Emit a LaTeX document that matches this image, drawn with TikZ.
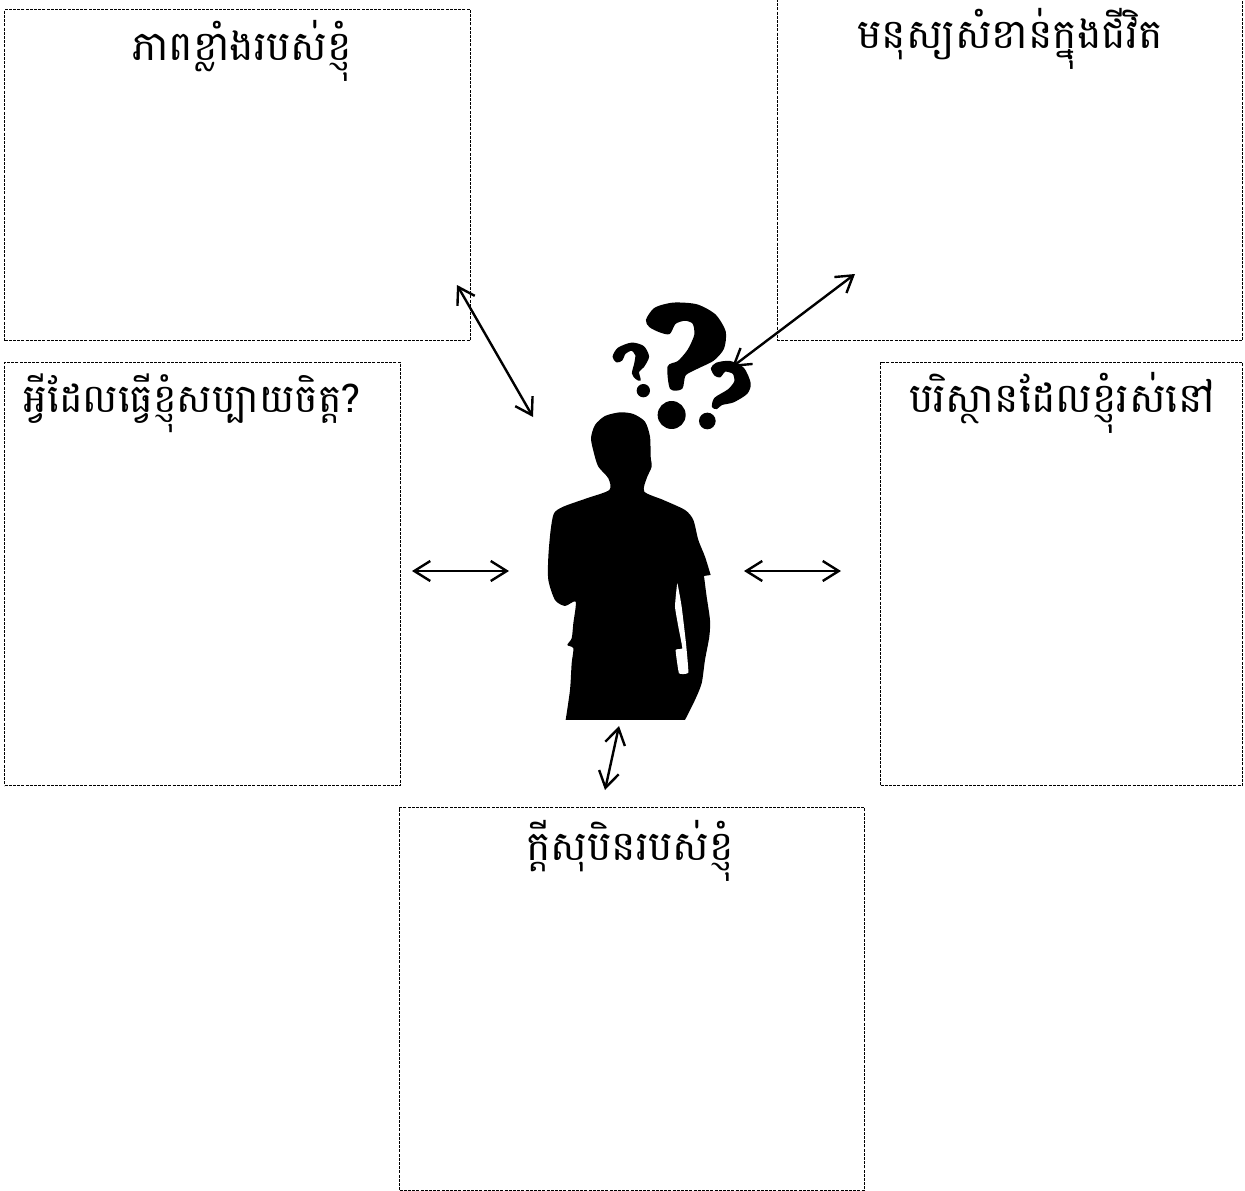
\documentclass[tikz,border=0pt]{standalone}
\usepackage{fontspec}
\usetikzlibrary{arrows.meta}
\newfontfamily\khmerfont[Script=Khmer]{Battambang}
\tikzset{
  panel/.style={draw=black,line width=1.1pt,dash pattern=on 3pt off 1.2pt,fill=none,inner sep=0pt,anchor=north west},
  paneltitle/.style={font=\khmerfont\fontsize{41}{48}\selectfont,anchor=base,inner sep=0pt,text=black},
  link/.style={line width=2.4pt,{Straight Barb[length=16pt,width=20pt,line width=2.4pt]}-{Straight Barb[length=16pt,width=20pt,line width=2.4pt]}},
  ink/.style={fill=black,draw=none},
  qmark/.style={fill=black,draw=black,line width=1.5pt,line join=round}
}
\begin{document}
\begin{tikzpicture}[x=1pt,y=-1pt]
\useasboundingbox (0,0) rectangle (1245,1191);
\begin{scope}
\clip (0,0) rectangle (1245,1191);
\node[panel,minimum width=466pt,minimum height=331pt] (strength) at (4,9) {};
\node[panel,minimum width=465.5pt,minimum height=350pt] (people) at (776.5,-10) {};
\node[panel,minimum width=396pt,minimum height=423pt] (joy) at (4,362) {};
\node[panel,minimum width=362pt,minimum height=423pt] (env) at (880,362) {};
\node[panel,minimum width=465pt,minimum height=383pt] (dream) at (399,807) {};
\end{scope}
\node[paneltitle] (t1) at (242,60) {ភាពខ្លាំងរបស់ខ្ញុំ};
\node[paneltitle] (t2) at (1010,48) {មនុស្យសំខាន់ក្នុងជីវិត};
\node[paneltitle,font=\khmerfont\fontsize{39.5}{48}\selectfont] (t3) at (192,412) {អ្វីដែលធ្វើខ្ញុំសប្បាយចិត្ត?};
\node[paneltitle] (t4) at (1062,412) {បរិស្ថានដែលខ្ញុំរស់នៅ};
\node[paneltitle] (t5) at (630,860) {ក្តីសុបិនរបស់ខ្ញុំ};
% silhouette
\begin{scope}[shift={(530,290)},x=0.3333pt,y=-0.3333pt]
\fill[ink] plot[smooth,tension=0.45] coordinates {(465,1290)(495,1230)(515,1180)(525,1110)(538,1040)(540,990)(530,920)(522,858)}
 -- (542,855)
 -- plot[smooth,tension=0.45] coordinates {(542,855)(525,800)(505,750)(490,690)(465,660)(400,630)(343,605)(350,565)(365,530)(362,500)(360,440)(345,395)(310,372)(270,367)(225,378)(195,405)(183,445)(192,490)(205,530)(235,565)(238,600)(170,625)(100,650)(72,670)(62,720)(55,800)(55,870)(75,930)(105,948)(137,935)(130,1000)(125,1045)(112,1065)(130,1075)(125,1120)(120,1200)(107,1290)} -- cycle;
\fill[white] plot[smooth cycle,tension=0.2] coordinates {(442,880)(435,950)(445,1010)(457,1075)(437,1080)(447,1150)(475,1148)(468,1060)(455,950)};
\end{scope}
\begin{scope}[shift={(600,295)},x=0.3333pt,y=-0.3333pt]
\path[qmark] plot[smooth cycle,tension=0.45] coordinates {(140,75)(165,40)(220,25)(290,30)(345,60)(375,110)(370,160)(340,195)(290,220)(255,240)(245,280)(212,280)(205,215)(235,200)(265,165)(285,120)(280,85)(255,75)(225,85)(208,115)(180,110)(150,95)};
\fill[ink] (215,360) circle (42);
\path[qmark] plot[smooth cycle,tension=0.45] coordinates {(40,185)(55,160)(95,145)(130,155)(145,185)(130,215)(115,230)(120,255)(108,250)(98,235)(105,205)(108,180)(95,165)(75,175)(65,195)(50,200)};
\fill[ink] (130,287) circle (20);
\path[qmark] plot[smooth cycle,tension=0.45] coordinates {(335,220)(350,205)(390,200)(430,220)(450,265)(440,295)(400,320)(365,328)(350,340)(338,335)(345,310)(385,285)(405,260)(400,235)(375,228)(360,245)(345,240)};
\fill[ink] (322,378) circle (25);
\end{scope}
% connector ends
\coordinate (a1) at (457,285); \coordinate (a2) at (533,417);
\coordinate (b1) at (855,274); \coordinate (b2) at (732,367);
\coordinate (c1) at (412,571); \coordinate (c2) at (509,571);
\coordinate (d1) at (744,571); \coordinate (d2) at (841,571);
\coordinate (e1) at (619,726); \coordinate (e2) at (605,790);
\draw[link] (a1) -- (a2);
\draw[link] (b1) -- (b2);
\draw[link] (c1) -- (c2);
\draw[link] (d1) -- (d2);
\draw[link] (e1) -- (e2);
\end{tikzpicture}
\end{document}
